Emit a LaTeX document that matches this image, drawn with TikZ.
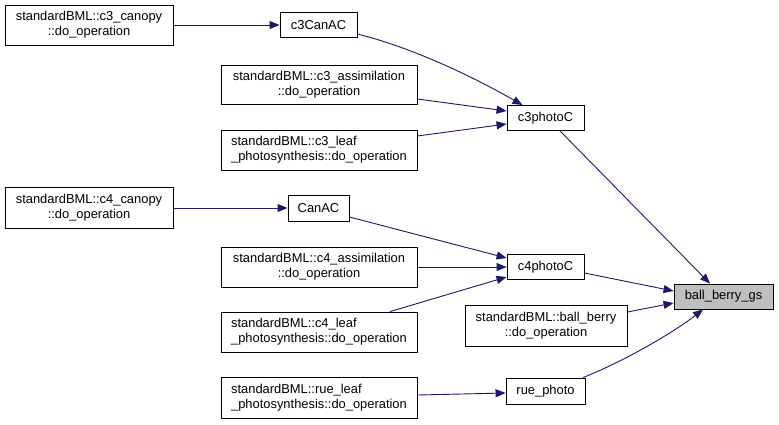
\documentclass[tikz,border=0pt]{standalone}
\usepackage{fontspec}
\setmainfont{Liberation Sans}
\usetikzlibrary{arrows.meta}
\definecolor{edgeblue}{HTML}{191970}
\definecolor{hlgray}{HTML}{BFBFBF}
\begin{document}
\begin{tikzpicture}[x=1bp,y=-1bp,
  box/.style={draw=black,line width=0.9bp,inner sep=0pt,
    font=\fontsize{12.9bp}{15bp}\selectfont,align=center},
  lbox/.style={box,align=left},
  conn/.style={draw=edgeblue,line width=0.9bp,
    -{Triangle[length=10bp,width=8bp]}}]
\useasboundingbox (0,0) rectangle (779,424);
% nodes
\node[box,minimum width=168bp,minimum height=40bp] (c3canopy) at (89,25) {standardBML::c3\_canopy\\::do\_operation};
\node[box,minimum width=77bp,minimum height=25bp] (c3CanAC) at (318.5,25) {c3CanAC};
\node[box,minimum width=196bp,minimum height=39bp] (c3assim) at (319,84.5) {standardBML::c3\_assimilation\\::do\_operation};
\node[lbox,minimum width=196bp,minimum height=40bp] (c3leaf) at (319,150) {standardBML::c3\_leaf\\\_photosynthesis::do\_operation};
\node[box,minimum width=77bp,minimum height=25bp] (c3photoC) at (545.5,118) {c3photoC};
\node[box,minimum width=168bp,minimum height=41bp] (c4canopy) at (89,208) {standardBML::c4\_canopy\\::do\_operation};
\node[box,minimum width=61bp,minimum height=26bp] (CanAC) at (318.5,208) {CanAC};
\node[box,minimum width=196bp,minimum height=40bp] (c4assim) at (319,267) {standardBML::c4\_assimilation\\::do\_operation};
\node[lbox,minimum width=196bp,minimum height=40bp] (c4leaf) at (319,332) {standardBML::c4\_leaf\\\_photosynthesis::do\_operation};
\node[lbox,minimum width=196bp,minimum height=41bp] (rueleaf) at (319,397.5) {standardBML::rue\_leaf\\\_photosynthesis::do\_operation};
\node[box,minimum width=77bp,minimum height=25bp] (c4photoC) at (545.5,267) {c4photoC};
\node[box,fill=hlgray,minimum width=99bp,minimum height=25bp] (bbgs) at (723.5,296.5) {ball\_berry\_gs};
\node[box,minimum width=162bp,minimum height=41bp] (bb) at (546,325.5) {standardBML::ball\_berry\\::do\_operation};
\node[box,minimum width=79bp,minimum height=26bp] (ruephoto) at (545.5,391) {rue\_photo};
% connectors
\draw[conn] (c3canopy.east) -- (c3CanAC.west);
\draw[conn] ([yshift=-9bp]c3CanAC.east) .. controls (410,47) and (470,75) .. ([xshift=-23bp]c3photoC.north);
\draw[conn] ([yshift=-14.5bp]c3assim.east) -- ([yshift=7bp]c3photoC.west);
\draw[conn] ([yshift=14bp]c3leaf.east) -- ([yshift=-6bp]c3photoC.west);
\draw[conn] ([xshift=14.5bp]c3photoC.south) -- ([xshift=-13.5bp]bbgs.north);
\draw[conn] (c4canopy.east) -- (CanAC.west);
\draw[conn] ([yshift=-9bp]CanAC.east) -- ([yshift=9bp]c4photoC.west);
\draw[conn] (c4assim.east) -- (c4photoC.west);
\draw[conn] ([xshift=71bp]c4leaf.north) -- ([yshift=-10bp]c4photoC.west);
\draw[conn] ([yshift=-6bp]c4photoC.east) -- ([yshift=5.5bp]bbgs.west);
\draw[conn] ([yshift=13.5bp]bb.east) -- ([yshift=-6.5bp]bbgs.west);
\draw[conn] ([xshift=37.5bp]ruephoto.north) .. controls (620,363) and (670,335) .. ([xshift=-20.5bp]bbgs.south);
\draw[conn] ([yshift=2.5bp]rueleaf.east) -- ([yshift=-2bp]ruephoto.west);
\end{tikzpicture}
\end{document}
